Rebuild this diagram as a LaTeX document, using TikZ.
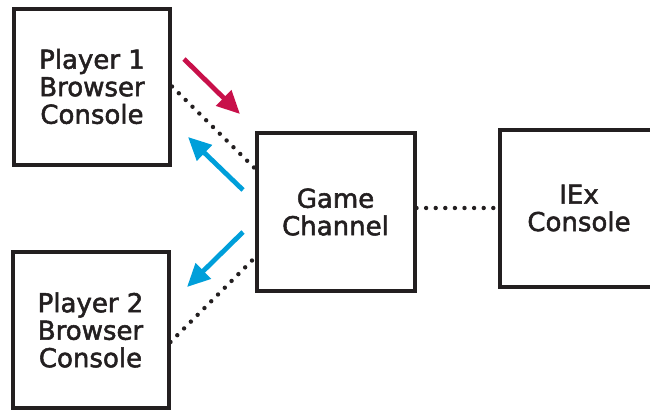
\documentclass[tikz,border=0pt]{standalone}
\usepackage{fontspec}
\setmainfont{DejaVu Sans}
\newfontfamily\labelface{DejaVu Sans}[FakeBold=2]
\usetikzlibrary{arrows.meta,calc}

\definecolor{inkline}{HTML}{231F20}
\definecolor{sendred}{HTML}{C8104A}
\definecolor{pushblue}{HTML}{009FDA}

\tikzset{
	console/.style={draw=inkline, line width=4pt, minimum width=156pt, minimum height=156pt, inner sep=0pt, align=center, text=inkline, font=\labelface\fontsize{26pt}{27.5pt}\selectfont},
	link/.style={draw=inkline, line width=4.4pt, line cap=round, dash pattern=on 0pt off 9.6pt},
	flow/.style={line width=4.8pt, -{Triangle[length=23pt,width=21pt]}},
}

\begin{document}
\begin{tikzpicture}[x=1pt, y=-1pt]
		\clip (0,0) rectangle (650,410);
		\node[console] (p1) at (92,86.5) {Player 1\\Browser\\Console};
		\node[console] (p2) at (90.5,330) {Player 2\\Browser\\Console};
		\node[console, minimum width=158pt, minimum height=158pt] (gc) at (335.5,212) {Game\\Channel};
		\node[console, minimum width=158pt, minimum height=157pt] (iex) at (579,208) {IEx\\Console};
		\draw[link] (p1.east) -- ([yshift=44pt]gc.west);
		\draw[link] ([yshift=-12pt]p2.east) -- ([yshift=-46pt]gc.west);
		\draw[link] (gc.east |- iex.west) -- (iex.west);
		% messages
		\coordinate (sendA) at (184,59);
		\coordinate (sendB) at (240,114);
		\coordinate (pushA) at (243,190);
		\coordinate (pushB) at (188,137);
		\coordinate (pushC) at (243,232);
		\coordinate (pushD) at (187,287);
		\draw[flow, sendred] (sendA) -- (sendB);
		\draw[flow, pushblue] (pushA) -- (pushB);
		\draw[flow, pushblue] (pushC) -- (pushD);
	\end{tikzpicture}
\end{document}
